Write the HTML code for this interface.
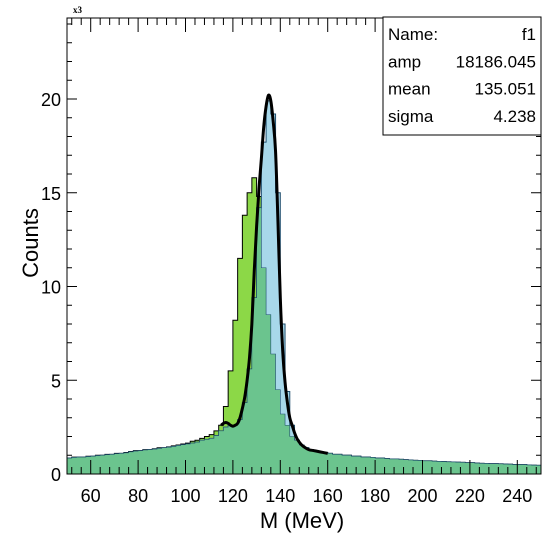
<!DOCTYPE html>
<html><head><meta charset="utf-8"><style>
html,body{margin:0;padding:0;background:#fff;}
svg{display:block;font-family:"Liberation Sans",sans-serif;}
</style></head><body>
<svg id="chart" width="555" height="544" viewBox="0 0 555 544"></svg>
<script>
const binStart = 50;
const binWidth = 2;
const limeCounts = [0.85,0.9,0.9,0.9,0.95,0.95,1.0,1.0,1.05,1.05,1.1,1.1,1.15,1.2,1.25,1.25,1.3,1.3,1.35,1.4,1.4,1.45,1.5,1.55,1.6,1.65,1.75,1.8,1.9,2.0,2.1,2.3,2.6,3.6,5.5,8.2,11.5,13.8,15.0,15.8,14.8,11.0,8.5,6.4,4.5,3.2,2.6,2.0,1.8,1.55,1.4,1.3,1.25,1.2,1.15,1.1,1.05,1.05,1.0,1.0,0.95,0.95,0.9,0.9,0.88,0.85,0.85,0.82,0.8,0.8,0.78,0.76,0.75,0.73,0.72,0.7,0.7,0.68,0.67,0.66,0.65,0.64,0.63,0.62,0.6,0.6,0.58,0.57,0.56,0.55,0.55,0.54,0.53,0.52,0.5,0.5,0.5,0.48,0.47,0.46];
const blueCounts = [0.85,0.88,0.9,0.9,0.93,0.95,0.98,1.0,1.03,1.05,1.08,1.1,1.13,1.18,1.22,1.24,1.28,1.3,1.33,1.37,1.4,1.43,1.47,1.52,1.56,1.6,1.65,1.7,1.8,1.85,1.9,2.05,2.3,2.5,2.6,2.6,2.9,3.8,5.6,9.4,14.2,17.7,19.9,19.2,15.0,8.0,4.4,2.6,1.8,1.55,1.4,1.3,1.25,1.2,1.15,1.1,1.05,1.05,1.0,1.0,0.95,0.95,0.9,0.9,0.88,0.85,0.85,0.82,0.8,0.8,0.78,0.76,0.75,0.73,0.72,0.7,0.7,0.68,0.67,0.66,0.65,0.64,0.63,0.62,0.6,0.6,0.58,0.57,0.56,0.55,0.55,0.54,0.53,0.52,0.5,0.5,0.5,0.48,0.47,0.46];
const fitX = [115,116,117,118,119,120,121,122,123,124,125,126,127,128,129,130,131,132,133,134,135,136,137,138,139,140,141,142,143,144,145,146,147,148,149,150,152,154,156,158,160];
const fitY = [2.6,2.7,2.75,2.7,2.6,2.55,2.6,2.7,3.0,3.5,4.1,5.0,6.2,8.0,10.8,13.2,15.2,16.8,18.5,19.6,20.2,19.9,18.8,17.2,13.5,9.4,6.6,4.9,3.8,3.0,2.6,2.2,1.9,1.7,1.55,1.45,1.3,1.25,1.2,1.15,1.1];
const xTicks = [60,80,100,120,140,160,180,200,220,240];
const yTicks = [0,5,10,15,20];
const statLabels = ["Name:","amp","mean","sigma"];
const statValues = ["f1","18186.045","135.051","4.238"];

const NS="http://www.w3.org/2000/svg";
const svg=document.getElementById('chart');
const L=67,R=541,T=18,B=474;
const xMin=50,xMax=250,yMax=24.32;
function sx(v){return L+(v-xMin)/(xMax-xMin)*(R-L);}
function sy(v){return B-v/yMax*(B-T);}
function mk(tag,attrs,parent){const e=document.createElementNS(NS,tag);for(const k in attrs)e.setAttribute(k,attrs[k]);(parent||svg).appendChild(e);return e;}
function histPath(vals){
  let d=`M${sx(binStart)},${B}`;
  vals.forEach((v,i)=>{const x0=sx(binStart+i*binWidth),x1=sx(binStart+(i+1)*binWidth);d+=` L${x0},${sy(v)} L${x1},${sy(v)}`;});
  d+=` L${sx(binStart+vals.length*binWidth)},${B} Z`;return d;
}
const minCounts=limeCounts.map((v,i)=>Math.min(v,blueCounts[i]));

const h1=mk('path',{d:histPath(limeCounts),fill:'#8cd847',stroke:'#000','stroke-width':1});


const h2=mk('path',{d:histPath(blueCounts),fill:'#a8d8ea',stroke:'#1f4e6e','stroke-width':1});


const h3=mk('path',{d:histPath(minCounts),fill:'#6bc48e',stroke:'#1f4e6e','stroke-width':0.6});



let pts=fitX.map((x,i)=>[sx(x),sy(fitY[i])]);
let d=`M${pts[0][0]},${pts[0][1]}`;
for(let i=0;i<pts.length-1;i++){const p0=pts[Math.max(0,i-1)],p1=pts[i],p2=pts[i+1],p3=pts[Math.min(pts.length-1,i+2)];
 d+=` C${p1[0]+(p2[0]-p0[0])/6},${p1[1]+(p2[1]-p0[1])/6} ${p2[0]-(p3[0]-p1[0])/6},${p2[1]-(p3[1]-p1[1])/6} ${p2[0]},${p2[1]}`;}
const fit=mk('path',{d:d,fill:'none',stroke:'#000','stroke-width':3});



const fr=mk('rect',{x:L,y:T,width:R-L,height:B-T,fill:'none',stroke:'#000','stroke-width':1});



for(let v=52;v<=250;v+=4){const maj=(v%20===0);const len=maj?14:7;
 mk('line',{x1:sx(v),x2:sx(v),y1:B,y2:B-len,stroke:'#000','stroke-width':1});
 mk('line',{x1:sx(v),x2:sx(v),y1:T,y2:T+len,stroke:'#000','stroke-width':1});}
xTicks.forEach(v=>{const t=mk('text',{x:sx(v),y:502,'text-anchor':'middle','font-size':18,fill:'#000'});t.textContent=v;
 
 });
for(let v=1;v<=24;v++){const maj=(v%5===0);const len=maj?10:5;
 mk('line',{x1:L,x2:L+len,y1:sy(v),y2:sy(v),stroke:'#000','stroke-width':1});
 mk('line',{x1:R,x2:R-len,y1:sy(v),y2:sy(v),stroke:'#000','stroke-width':1});}
yTicks.forEach(v=>{const t=mk('text',{x:61,y:sy(v)+7,'text-anchor':'end','font-size':18,fill:'#000'});t.textContent=v;
 
 });

const xt=mk('text',{x:302,y:528,'text-anchor':'middle','font-size':22,fill:'#000'});xt.textContent='M (MeV)';


const yt=mk('text',{x:38,y:243,'text-anchor':'middle','font-size':22,fill:'#000',transform:'rotate(-90 38 243)'});yt.textContent='Counts';


const mult=mk('text',{x:73,y:13,'font-size':9,'font-weight':'bold','font-family':'Liberation Serif, serif',fill:'#000'});mult.textContent='x3';



const g=mk('g',{});


mk('rect',{x:383,y:17,width:158,height:118,fill:'#fff',stroke:'#000','stroke-width':1},g);
statLabels.forEach((s,i)=>{const y=40+i*27.3;
 const a=mk('text',{x:388,y:y,'font-size':17,fill:'#000'},g);a.textContent=s;
 
 
 const b=mk('text',{x:536,y:y,'font-size':17,'text-anchor':'end',fill:'#000'},g);b.textContent=statValues[i];
 
 });
</script>
</body></html>
